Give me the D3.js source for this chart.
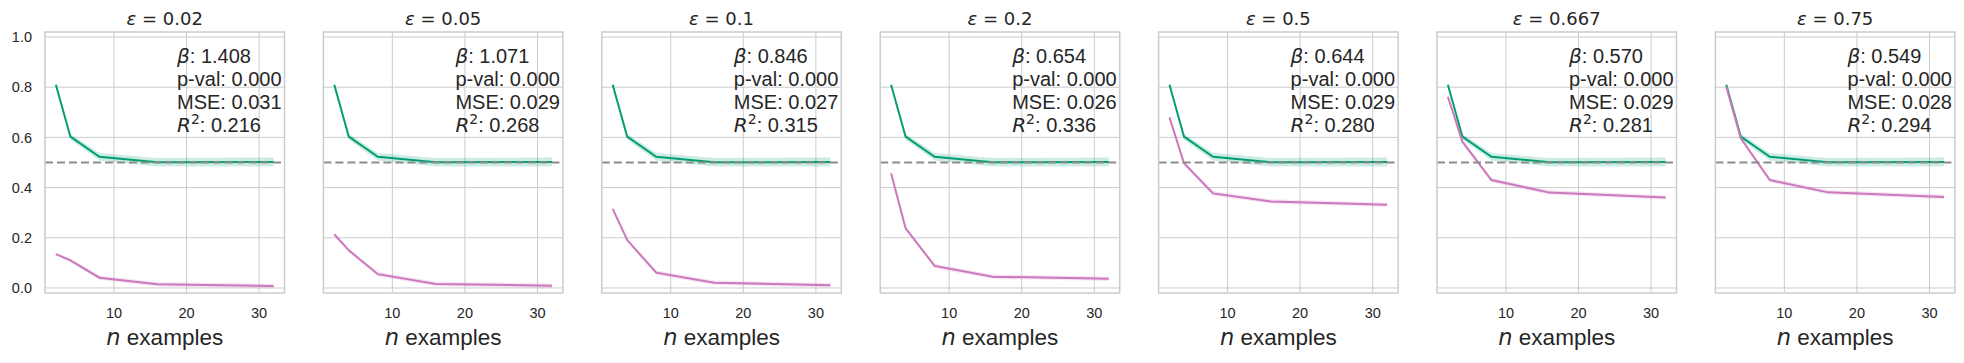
<!DOCTYPE html>
<html>
<head>
<meta charset="utf-8">
<script src="https://cdn.jsdelivr.net/npm/d3@7"></script>
<style>
  body { margin: 0; background: #fff; }
  svg { display: block; }
</style>
</head>
<body>
<svg id="chart" width="1964" height="363"></svg>
<script>
// ---- data ----
const nExamples = [2, 4, 8, 16, 32];
const epsilons = ["0.02", "0.05", "0.1", "0.2", "0.5", "0.667", "0.75"];
// green series (same across panels)
const greenMean = [0.810, 0.603, 0.523, 0.501, 0.502];
const greenCI = [0.006, 0.012, 0.015, 0.017, 0.018];
// pink series per epsilon
const pink002 = [0.135, 0.110, 0.041, 0.015, 0.008];
const pink005 = [0.214, 0.150, 0.055, 0.016, 0.009];
const pink01 = [0.315, 0.191, 0.061, 0.021, 0.011];
const pink02 = [0.457, 0.238, 0.088, 0.045, 0.037];
const pink05 = [0.680, 0.497, 0.377, 0.345, 0.332];
const pink0667 = [0.762, 0.583, 0.430, 0.380, 0.361];
const pink075 = [0.802, 0.596, 0.430, 0.381, 0.363];
const pinkSeries = [pink002, pink005, pink01, pink02, pink05, pink0667, pink075];
const pinkCI = [0.005, 0.007, 0.009, 0.009, 0.009];
// stats
const betas = ["1.408", "1.071", "0.846", "0.654", "0.644", "0.570", "0.549"];
const pvals = ["0.000", "0.000", "0.000", "0.000", "0.000", "0.000", "0.000"];
const mses = ["0.031", "0.029", "0.027", "0.026", "0.029", "0.029", "0.028"];
const r2s = ["0.216", "0.268", "0.315", "0.336", "0.280", "0.281", "0.294"];
const chance = 0.5;
const xTicks = [10, 20, 30];
const yTicks = [0.0, 0.2, 0.4, 0.6, 0.8, 1.0];

// ---- layout ----
const svg = d3.select("#chart");
const panelLeft0 = 45, panelStep = 278.4, panelW = 239.5;
const plotTop = 32, plotBottom = 293;
const green = "#029e73", pink = "#cc78bc";
const textCol = "#262626", gridCol = "#cccccc";
const sans = "'Liberation Sans', Arial, sans-serif";
const dv = "'DejaVu Sans', sans-serif";

const y = d3.scaleLinear().domain([-0.02, 1.02]).range([plotBottom, plotTop]);

epsilons.forEach((eps, i) => {
  const left = panelLeft0 + i * panelStep;
  const x = d3.scaleLinear().domain([0.5, 33.5]).range([left, left + panelW]);
  const g = svg.append("g");

  // grid
  g.selectAll(".gx").data(xTicks).enter().append("line")
    .attr("x1", d => x(d)).attr("x2", d => x(d))
    .attr("y1", plotTop).attr("y2", plotBottom)
    .attr("stroke", gridCol).attr("stroke-width", 1);
  g.selectAll(".gy").data(yTicks).enter().append("line")
    .attr("x1", left).attr("x2", left + panelW)
    .attr("y1", d => y(d)).attr("y2", d => y(d))
    .attr("stroke", gridCol).attr("stroke-width", 1);

  const idx = d3.range(nExamples.length);
  const area = (m, ci) => d3.area()
    .x(j => x(nExamples[j])).y0(j => y(m[j] - ci[j])).y1(j => y(m[j] + ci[j]));
  const line = (m) => d3.line().x(j => x(nExamples[j])).y(j => y(m[j]));

  const ps = pinkSeries[i];
  g.append("path").attr("d", area(greenMean, greenCI)(idx))
    .attr("fill", green).attr("fill-opacity", 0.2);
  g.append("path").attr("d", line(greenMean)(idx))
    .attr("fill", "none").attr("stroke", green).attr("stroke-width", 2);
  g.append("path").attr("d", area(ps, pinkCI)(idx))
    .attr("fill", pink).attr("fill-opacity", 0.2);
  g.append("path").attr("d", line(ps)(idx))
    .attr("fill", "none").attr("stroke", pink).attr("stroke-width", 2);

  // chance line
  g.append("line")
    .attr("x1", left).attr("x2", left + panelW)
    .attr("y1", y(chance)).attr("y2", y(chance))
    .attr("stroke", "#8c8c8c").attr("stroke-width", 2)
    .attr("stroke-dasharray", "8,4");

  // frame
  g.append("rect").attr("x", left).attr("y", plotTop)
    .attr("width", panelW).attr("height", plotBottom - plotTop)
    .attr("fill", "none").attr("stroke", gridCol).attr("stroke-width", 1.5);

  // x tick labels
  g.selectAll(".xt").data(xTicks).enter().append("text")
    .attr("x", d => x(d)).attr("y", 318)
    .attr("text-anchor", "middle").attr("font-family", sans)
    .attr("font-size", 14.5).attr("fill", textCol).text(d => d);

  // y tick labels only on first panel
  if (i === 0) {
    g.selectAll(".yt").data(yTicks).enter().append("text")
      .attr("x", left - 13).attr("y", d => y(d)).attr("dy", "0.36em")
      .attr("text-anchor", "end").attr("font-family", sans)
      .attr("font-size", 14.5).attr("fill", textCol).text(d => d.toFixed(1));
  }

  // title
  const t = g.append("text").attr("x", left + panelW / 2).attr("y", 25)
    .attr("text-anchor", "middle").attr("font-family", dv)
    .attr("font-size", 18).attr("fill", textCol);
  t.append("tspan").attr("font-style", "italic").text("ε");
  t.append("tspan").text(" = " + eps);

  // x label
  const xl = g.append("text").attr("x", left + panelW / 2).attr("y", 345)
    .attr("text-anchor", "middle").attr("font-family", sans)
    .attr("font-size", 22.5).attr("fill", textCol);
  xl.append("tspan").attr("font-family", dv).attr("font-style", "italic").text("n");
  xl.append("tspan").text(" examples");

  // annotation
  const ax = left + 132;
  const a = g.append("g").attr("font-family", sans).attr("font-size", 20).attr("fill", textCol);
  const l1 = a.append("text").attr("x", ax).attr("y", 63.3);
  l1.append("tspan").attr("font-family", dv).attr("font-style", "italic").text("β");
  l1.append("tspan").text(": " + betas[i]);
  a.append("text").attr("x", ax).attr("y", 86.3).text("p-val: " + pvals[i]);
  a.append("text").attr("x", ax).attr("y", 109.3).text("MSE: " + mses[i]);
  const l4 = a.append("text").attr("x", ax).attr("y", 132.3);
  l4.append("tspan").attr("font-family", dv).attr("font-style", "italic").text("R");
  l4.append("tspan").attr("font-family", dv).attr("font-size", 14).attr("dy", -8).text("2");
  l4.append("tspan").attr("dy", 8).text(": " + r2s[i]);
});
</script>
</body>
</html>
